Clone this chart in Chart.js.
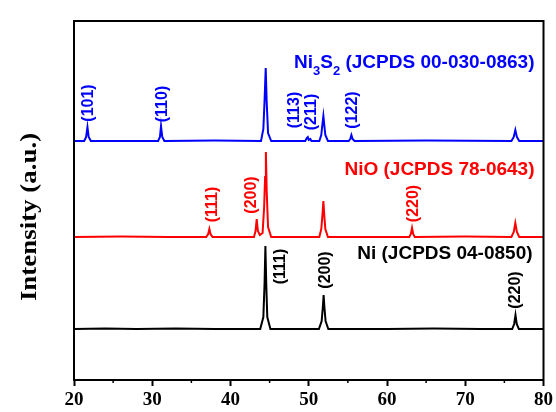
<!DOCTYPE html>
<html>
<head>
<meta charset="utf-8">
<script src="https://cdn.jsdelivr.net/npm/chart.js@4.4.1/dist/chart.umd.min.js"></script>
<style>
  html, body { margin: 0; padding: 0; background: #ffffff; }
  #wrap { width: 556px; height: 412px; position: relative; }
</style>
</head>
<body>
<div id="wrap"><canvas id="c"></canvas></div>
<script>
// ---------- DATA (2θ in degrees, intensity in a.u. above each pattern's baseline) ----------
const xTicks = [20, 30, 40, 50, 60, 70, 80];

const niPattern = [
  [20,0],[24,0.5],[28,0],[33,0.5],[38,0],[43.8,0],[44.2,12],[44.35,45],[44.46,83],[44.57,45],
  [44.7,12],[45.1,0],[51.3,0],[51.65,8],[51.8,22],[51.9,34],[52.0,22],[52.15,8],[52.5,0],
  [60,0],[66,0.5],[72,0],[76.0,0],[76.25,5],[76.42,14],[76.58,5],[76.85,0],[80,0]
];
const nioPattern = [
  [20,0],[26,0.5],[32,0],[36.9,0],[37.15,3],[37.3,8],[37.45,3],[37.7,0],[43.0,0],[43.2,6],
  [43.35,18],[43.5,6],[43.75,2],[44.1,4],[44.3,30],[44.42,60],[44.52,85],[44.63,45],[44.8,10],
  [45.2,0],[51.35,0],[51.6,8],[51.75,22],[51.87,36],[51.98,22],[52.12,8],[52.45,0],
  [62.85,0],[63.05,3],[63.2,9],[63.35,3],[63.55,0],[70,0.5],[75.9,0],[76.2,5],[76.4,14],
  [76.6,5],[76.9,0],[80,0]
];
const ni3s2Pattern = [
  [20,0],[21.3,0],[21.55,4],[21.72,14],[21.88,4],[22.15,0],[30.75,0],[30.98,4],[31.12,15],
  [31.28,4],[31.55,0],[38,0.5],[43.9,0],[44.2,12],[44.35,40],[44.5,73],[44.62,40],[44.8,8],
  [45.2,0],[49.55,0],[49.75,3],[49.88,4],[50.0,1],[50.2,2],[50.35,0],[51.35,0],[51.6,6],
  [51.75,17],[51.87,25],[51.97,17],[52.12,6],[52.45,0],[55.1,0],[55.3,2],[55.45,6],[55.6,2],
  [55.85,0],[65,0.5],[75.9,0],[76.2,4],[76.4,11],[76.6,4],[76.9,0],[80,0]
];

// vertical stacking offsets of the three patterns (a.u.)
const seriesNames   = ['Ni (JCPDS 04-0850)', 'NiO (JCPDS 78-0643)', 'Ni3S2 (JCPDS 00-030-0863)'];
const seriesOffsets = [51, 143, 239];
const seriesColors  = ['#000000', '#ff0000', '#0000ff'];

// hkl annotations: [text, 2θ, intensity (absolute, a.u.)]
const niHkl    = [['(111)', 46.45, 113.5], ['(200)', 52.2, 110], ['(220)', 76.45, 90]];
const nioHkl   = [['(111)', 37.75, 175.5], ['(200)', 42.65, 185], ['(220)', 63.45, 176.5]];
const ni3s2Hkl = [['(101)', 21.85, 277], ['(110)', 31.35, 276], ['(113)', 48.2, 270],
                  ['(211)', 50.3, 268], ['(122)', 55.6, 270]];
// phase titles: right edge at 2θ, centre at intensity
const titlePos = [[78.6, 126], [78.85, 210], [78.85, 317]];
// ------------------------------------------------------------------------------------------

function shift(arr, off) { return arr.map(p => ({ x: p[0], y: p[1] + off })); }

const patterns = [niPattern, nioPattern, ni3s2Pattern];
const hklSets = [niHkl, nioHkl, ni3s2Hkl];

const datasets = patterns.map((p, i) => ({
  label: seriesNames[i],
  data: shift(p, seriesOffsets[i]),
  borderColor: seriesColors[i],
  backgroundColor: seriesColors[i],
  borderWidth: 2,
  pointRadius: 0,
  tension: 0,
  fill: false
}));

const annot = {
  id: 'annot',
  afterDatasetsDraw(chart) {
    const ctx = chart.ctx;
    const xs = chart.scales.x, ys = chart.scales.y;
    const ca = chart.chartArea;
    ctx.save();
    // hkl labels (rotated)
    hklSets.forEach((set, i) => {
      set.forEach(([t, x, y]) => {
        ctx.save();
        ctx.translate(xs.getPixelForValue(x), ys.getPixelForValue(y));
        ctx.rotate(-Math.PI / 2);
        ctx.fillStyle = seriesColors[i];
        ctx.font = 'bold 16px "Liberation Sans", Arial, sans-serif';
        ctx.textAlign = 'center';
        ctx.textBaseline = 'middle';
        ctx.fillText(t, 0, 0);
        ctx.restore();
      });
    });
    // phase titles
    ctx.textBaseline = 'middle';
    const big = 'bold 19px "Liberation Sans", Arial, sans-serif';
    const small = 'bold 13px "Liberation Sans", Arial, sans-serif';
    [0, 1].forEach(i => {
      ctx.font = big;
      ctx.fillStyle = seriesColors[i];
      ctx.textAlign = 'right';
      ctx.fillText(seriesNames[i], xs.getPixelForValue(titlePos[i][0]), ys.getPixelForValue(titlePos[i][1]));
    });
    // Ni3S2 with subscripts
    {
      const parts = [['Ni', big, 0], ['3', small, 8], ['S', big, 0], ['2', small, 8], [' (JCPDS 00-030-0863)', big, 0]];
      let total = 0;
      parts.forEach(([t, f]) => { ctx.font = f; total += ctx.measureText(t).width; });
      let x = xs.getPixelForValue(titlePos[2][0]) - total;
      const y = ys.getPixelForValue(titlePos[2][1]);
      ctx.textAlign = 'left';
      ctx.fillStyle = seriesColors[2];
      parts.forEach(([t, f, dy]) => {
        ctx.font = f;
        ctx.fillText(t, x, y + dy);
        x += ctx.measureText(t).width;
      });
    }
    // frame
    ctx.strokeStyle = '#000';
    ctx.lineWidth = 2;
    ctx.strokeRect(ca.left, ca.top, ca.right - ca.left, ca.bottom - ca.top);
    // minor ticks
    ctx.lineWidth = 1.5;
    for (let v = 25; v < 80; v += 10) {
      const px = xs.getPixelForValue(v);
      ctx.beginPath();
      ctx.moveTo(px, ca.bottom);
      ctx.lineTo(px, ca.bottom + 3);
      ctx.stroke();
    }
    // y title
    ctx.save();
    ctx.translate(30, 217);
    ctx.rotate(-Math.PI / 2);
    ctx.scale(1.17, 1);
    ctx.font = 'bold 23px "Liberation Serif", "Times New Roman", serif';
    ctx.fillStyle = '#000';
    ctx.textAlign = 'center';
    ctx.textBaseline = 'middle';
    ctx.fillText('Intensity (a.u.)', 0, 0);
    ctx.restore();
    ctx.restore();
  }
};

new Chart(document.getElementById('c'), {
  type: 'line',
  data: { datasets },
  options: {
    responsive: true,
    maintainAspectRatio: false,
    animation: false,
    layout: { padding: { left: 0, right: 11, top: 21, bottom: 0 } },
    plugins: { legend: { display: false }, tooltip: { enabled: false } },
    scales: {
      x: {
        type: 'linear',
        min: xTicks[0],
        max: xTicks[xTicks.length - 1],
        afterBuildTicks: (s) => { s.ticks = xTicks.map(v => ({ value: v })); },
        afterFit: (s) => { s.height = 32; },
        ticks: {
          color: '#000',
          padding: 3,
          maxRotation: 0,
          font: { family: '"Liberation Serif", "Times New Roman", serif', size: 19, weight: 'bold' }
        },
        grid: { drawOnChartArea: false, tickLength: 6, tickWidth: 2, color: '#000' },
        border: { display: true, color: '#000', width: 2 }
      },
      y: {
        type: 'linear',
        min: 0,
        max: 359,
        afterFit: (s) => { s.width = 74; },
        ticks: { display: false },
        grid: { display: false },
        border: { display: true, color: '#000', width: 2 }
      }
    }
  },
  plugins: [annot]
});
</script>
</body>
</html>
